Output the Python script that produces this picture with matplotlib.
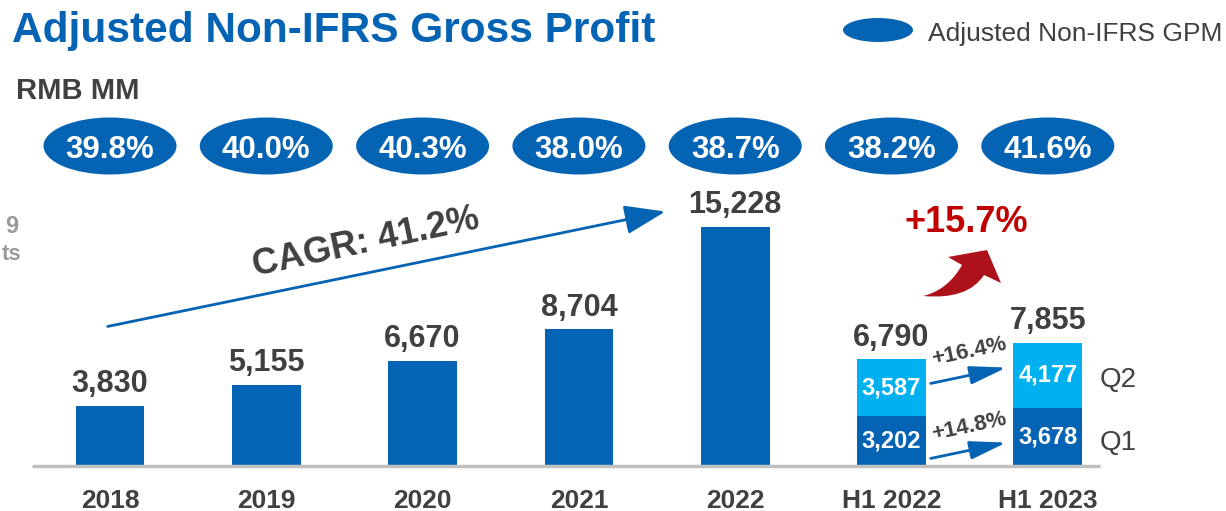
import matplotlib.pyplot as plt
from matplotlib.patches import Ellipse, FancyArrowPatch, PathPatch
from matplotlib.path import Path

plt.rcParams['font.family'] = ['Liberation Sans', 'DejaVu Sans']

categories = ["2018", "2019", "2020", "2021", "2022", "H1 2022", "H1 2023"]
gross_profit = [3830, 5155, 6670, 8704, 15228]
h1_q1 = [3202, 3678]
h1_q2 = [3587, 4177]
h1_total = [6790, 7855]
gpm = ["39.8%", "40.0%", "40.3%", "38.0%", "38.7%", "38.2%", "41.6%"]
q_growth = ["+14.8%", "+16.4%"]
cagr_label = "CAGR: 41.2%"
h1_growth = "+15.7%"

BLUE = "#0563b3"
LIGHT = "#00b0f0"
DARK = "#404040"
RED = "#c00000"

W, H = 1226, 511
fig = plt.figure(figsize=(W / 100, H / 100), dpi=100)
ax = fig.add_axes((0, 0, 1, 1))

# pixel layout: one category = 156.3 px, baseline at y=466 px
x0, step = 110, 156.3
base, k = 466, 0.015695
ax.set_xlim(-x0 / step, (W - x0) / step)
ax.set_ylim(-(H - base) / k, base / k)
ax.axis("off")


def px(x, y):
    # image pixel -> data coords
    return (x - x0) / step, (base - y) / k


bw = 0.44
n = len(gross_profit)
ax.bar(range(n), gross_profit, width=bw, color=BLUE)
hx = [n, n + 1]
ax.bar(hx, h1_q1, width=bw, color=BLUE)
ax.bar(hx, h1_q2, width=bw, bottom=h1_q1, color=LIGHT)

# baseline
ax.plot([px(32, 0)[0], px(1100, 0)[0]], [0, 0], color="#c0c0c0", lw=2.5,
        solid_capstyle="butt")

# value labels
for i, v in enumerate(gross_profit + h1_total):
    ax.annotate(f"{v:,}", (i, v), xytext=(0, 10), textcoords="offset points",
                ha="center", va="baseline", fontsize=22, weight="bold",
                color=DARK)

for j, x in enumerate(hx):
    ax.text(x, h1_q1[j] / 2, f"{h1_q1[j]:,}", ha="center", va="center",
            fontsize=17, weight="bold", color="white")
    ax.text(x, h1_q1[j] + h1_q2[j] / 2, f"{h1_q2[j]:,}", ha="center",
            va="center", fontsize=17, weight="bold", color="white")

ax.text(*px(1100, 443), "Q1", ha="left", va="center", fontsize=20, color=DARK)
ax.text(*px(1100, 380), "Q2", ha="left", va="center", fontsize=20, color=DARK)

# category labels
for i, c in enumerate(categories):
    ax.text(i, px(0, 501)[1], c, ha="center", va="center", fontsize=19,
            weight="bold", color=DARK)

# GPM ellipses
ey = px(0, 146)[1]
for i, g in enumerate(gpm):
    ax.add_patch(Ellipse((i, ey), 133 / step, 57 / k, color=BLUE, lw=0))
    ax.text(i, ey, g, ha="center", va="center_baseline", fontsize=22.5,
            weight="bold", color="white")

# legend
ax.add_patch(Ellipse(px(878, 30), 70 / step, 24 / k, color=BLUE, lw=0))
ax.text(*px(928, 31), "Adjusted Non-IFRS GPM", ha="left",
        va="center_baseline", fontsize=19, color=DARK)

# title
fig.text(12 / W, 1 - 42 / H, "Adjusted Non-IFRS Gross Profit", ha="left",
         va="baseline", fontsize=30.5, weight="bold", color=BLUE)
fig.text(16 / W, 1 - 99 / H, "RMB MM", ha="left", va="baseline",
         fontsize=21, weight="bold", color=DARK)

# leftovers of a side note at the left edge
ax.text(*px(18, 226), "9", ha="right", va="center", fontsize=17,
        weight="bold", color="#9a9a9a")
ax.text(*px(21, 254), "ts", ha="right", va="center", fontsize=16,
        weight="bold", color="#9a9a9a")

# CAGR arrow
ax.add_patch(FancyArrowPatch(px(105, 327), px(668, 211),
                             arrowstyle="-|>,head_length=1.4,head_width=0.5",
                             mutation_scale=18, color=BLUE, lw=2))
ax.text(*px(366, 243), cagr_label, ha="center", va="center", rotation=12,
        rotation_mode="anchor", fontsize=26, weight="bold", color=DARK)

# quarter growth arrows
for (y1, y2, ty), lab in zip([(459, 442, 427), (384, 367, 352)], q_growth):
    ax.add_patch(FancyArrowPatch(px(928, y1), px(1009, y2),
                                 arrowstyle="-|>,head_length=1.6,head_width=0.4",
                                 mutation_scale=14, color=BLUE, lw=2))
    ax.text(*px(969, ty), lab, ha="center", va="center", rotation=12,
            rotation_mode="anchor", fontsize=16, weight="bold", color=DARK)

# red curved arrow
pts = [(923, 296), (948, 290), (962, 265), (948, 257), (987, 250),
       (1001, 283), (984, 275), (968, 300), (923, 296)]
codes = [Path.MOVETO, Path.CURVE3, Path.CURVE3, Path.LINETO, Path.LINETO,
         Path.LINETO, Path.LINETO, Path.CURVE3, Path.CURVE3]
ax.add_patch(PathPatch(Path([px(*p) for p in pts], codes), color="#ad121c",
                       lw=0))
ax.text(*px(966, 222), h1_growth, ha="center", va="center", fontsize=26,
        weight="bold", color=RED)

fig.savefig("out.png", dpi=100)
